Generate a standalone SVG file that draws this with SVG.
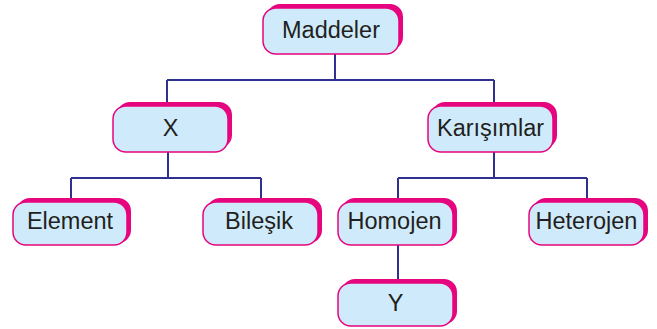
<svg xmlns="http://www.w3.org/2000/svg" width="657" height="329" viewBox="0 0 657 329">
<style>
.sh{fill:#e6057f}
.bx{fill:#cfebfb;stroke:#e6057f;stroke-width:1.5}
.t{font-family:"Liberation Sans",Arial,sans-serif;font-size:23.5px;fill:#231f20;text-anchor:middle}
.c{fill:none;stroke:#2e3192;stroke-width:2}
</style>
<rect width="657" height="329" fill="#ffffff"/>
<g id="connectors">
<path class="c" d="M335,54V80M167,80H494M167,80V106M494,80V106"/>
<path class="c" d="M168,152V178M71,178H261M71,178V202M261,178V202"/>
<path class="c" d="M494,152V178M398,178H587M398,178V202M587,178V202"/>
<path class="c" d="M398,245V283"/>
</g>
<g id="maddeler"><rect class="sh" x="267" y="4" width="136" height="46" rx="13"/><rect class="bx" x="263" y="8" width="136" height="46" rx="13"/><text class="t" x="331" y="37.5">Maddeler</text></g>
<g id="x"><rect class="sh" x="117" y="102" width="115" height="46" rx="13"/><rect class="bx" x="113" y="106" width="115" height="46" rx="13"/><text class="t" x="170.5" y="136">X</text></g>
<g id="karisimlar"><rect class="sh" x="432" y="102" width="125" height="46" rx="13"/><rect class="bx" x="428" y="106" width="125" height="46" rx="13"/><text class="t" x="490.5" y="136">Karışımlar</text></g>
<g id="element"><rect class="sh" x="17" y="198" width="114" height="45" rx="13"/><rect class="bx" x="13" y="202" width="114" height="43" rx="13"/><text class="t" x="70" y="229">Element</text></g>
<g id="bilesik"><rect class="sh" x="207" y="198" width="115" height="45" rx="13"/><rect class="bx" x="203" y="202" width="115" height="43" rx="13"/><text class="t" x="259" y="229">Bileşik</text></g>
<g id="homojen"><rect class="sh" x="342" y="198" width="115" height="45" rx="13"/><rect class="bx" x="338" y="202" width="115" height="43" rx="13"/><text class="t" x="394.5" y="229">Homojen</text></g>
<g id="heterojen"><rect class="sh" x="533" y="198" width="115" height="45" rx="13"/><rect class="bx" x="529" y="202" width="115" height="43" rx="13"/><text class="t" x="586.5" y="229">Heterojen</text></g>
<g id="y"><rect class="sh" x="342" y="279" width="115" height="45" rx="13"/><rect class="bx" x="338" y="283" width="115" height="43" rx="13"/><text class="t" x="395.5" y="310.5">Y</text></g>
</svg>
